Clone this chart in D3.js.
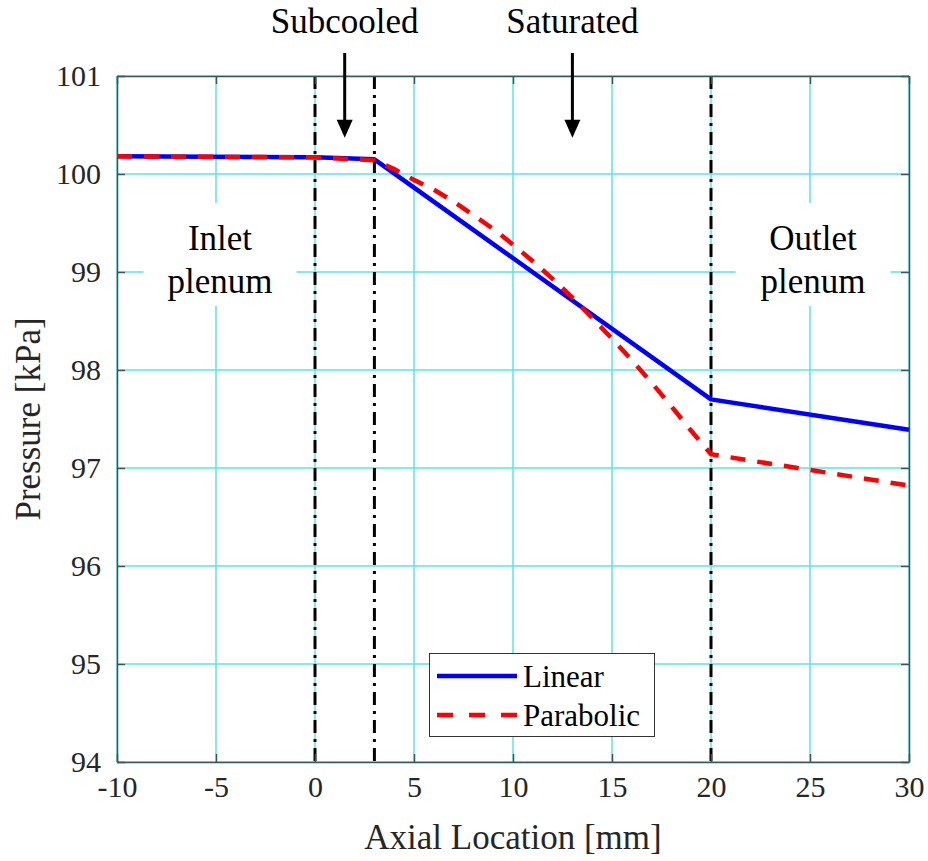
<!DOCTYPE html>
<html>
<head>
<meta charset="utf-8">
<script src="https://cdn.jsdelivr.net/npm/d3@7"></script>
<style>
	body { margin: 0; background: #fff; }
	svg text { font-family: "Liberation Serif", "Times New Roman", serif !important; }
</style>
</head>
<body>
<svg id="chart"></svg>
<script>
(function(){

	//Data
	var linearX = [-10, 0, 3, 20, 30];
	var linearP = [100.18, 100.17, 100.15, 97.70, 97.39];
	var parabX = [-10, 0, 3, 4, 5, 6, 7, 8, 9, 10, 11, 12, 13, 14, 15, 16, 17, 18, 19, 20, 30];
	var parabP = [100.18, 100.17, 100.14, 100.05, 99.94, 99.84, 99.72, 99.58, 99.44, 99.28, 99.11, 98.93, 98.74, 98.53, 98.32, 98.10, 97.87, 97.63, 97.38, 97.14, 96.82];
	var boundaryX = [0, 3, 20];
	var xTicks = [-10, -5, 0, 5, 10, 15, 20, 25, 30];
	var yTicks = [94, 95, 96, 97, 98, 99, 100, 101];
	var regionNames = ["Subcooled", "Saturated"];
	var regionX = [1.5, 13];
	var seriesNames = ["Linear", "Parabolic"];

	//SVG configurations
	var svgWidth = 928, svgHeight = 861;
	var margin = {top: 76, right: 19, bottom: 99, left: 117};
	var gridColor = "#55e6ee";
	var axisColor = "#35585a";
	var lineWidth = 4.5;
	var serif = "'Liberation Serif', 'Times New Roman', serif";

	var svg = d3.select("#chart")
	.attr("width", svgWidth)
	.attr("height", svgHeight);

	var x = d3.scaleLinear().domain([-10, 30]).range([margin.left, svgWidth - margin.right]);
	var y = d3.scaleLinear().domain([94, 101]).range([svgHeight - margin.bottom, margin.top]);

	//grid
	var grid = svg.append("g");
	grid.selectAll(".vgrid").data(xTicks).enter().append("line")
	.attr("x1", function(d){ return x(d); }).attr("x2", function(d){ return x(d); })
	.attr("y1", y(94)).attr("y2", y(101))
	.attr("stroke", gridColor).attr("stroke-width", 1.5);
	grid.selectAll(".hgrid").data(yTicks).enter().append("line")
	.attr("y1", function(d){ return y(d); }).attr("y2", function(d){ return y(d); })
	.attr("x1", x(-10)).attr("x2", x(30))
	.attr("stroke", gridColor).attr("stroke-width", 1.5);

	//region boundaries
	svg.selectAll(".bound").data(boundaryX).enter().append("line")
	.attr("x1", function(d){ return x(d); }).attr("x2", function(d){ return x(d); })
	.attr("y1", y(101)).attr("y2", y(94))
	.attr("stroke", "#000").attr("stroke-width", 3)
	.attr("stroke-dasharray", "13,6,3,6");

	//axes, ticks pointing inward, box on
	var plainFormat = function(d){ return String(d); };
	function styleAxis(g){
		g.attr("font-family", serif);
		g.select(".domain").attr("stroke", axisColor).attr("stroke-width", 1.5);
		g.selectAll(".tick line").attr("stroke", axisColor).attr("stroke-width", 1.5);
		g.selectAll(".tick text").attr("fill", "#262626")
		.style("font-size", "30px").style("font-family", serif);
	}
	svg.append("g").attr("transform", "translate(0," + y(94) + ")")
	.call(d3.axisBottom(x).tickValues(xTicks).tickFormat(plainFormat).tickSize(-8).tickPadding(14).tickSizeOuter(0))
	.call(styleAxis)
	.selectAll(".tick text").attr("dy", "0.71em");
	svg.append("g").attr("transform", "translate(0," + y(101) + ")")
	.call(d3.axisTop(x).tickValues(xTicks).tickSize(-8).tickFormat("").tickSizeOuter(0))
	.call(styleAxis);
	svg.append("g").attr("transform", "translate(" + x(-10) + ",0)")
	.call(d3.axisLeft(y).tickValues(yTicks).tickFormat(plainFormat).tickSize(-8).tickPadding(16).tickSizeOuter(0))
	.call(styleAxis);
	svg.append("g").attr("transform", "translate(" + x(30) + ",0)")
	.call(d3.axisRight(y).tickValues(yTicks).tickSize(-8).tickFormat("").tickSizeOuter(0))
	.call(styleAxis);

	//data lines
	var line = d3.line()
	.x(function(d){ return x(d[0]); })
	.y(function(d){ return y(d[1]); });
	var linearData = d3.zip(linearX, linearP);
	var parabData = d3.zip(parabX, parabP);
	svg.append("path").datum(linearData)
	.attr("d", line)
	.attr("fill", "none").attr("stroke", "#0000ff").attr("stroke-width", lineWidth)
	.attr("stroke-linejoin", "round");
	svg.append("path").datum(parabData)
	.attr("d", line)
	.attr("fill", "none").attr("stroke", "#ff0000").attr("stroke-width", lineWidth)
	.attr("stroke-dasharray", "15,12");

	//axis labels
	svg.append("text")
	.attr("x", (x(-10) + x(30)) / 2).attr("y", 849)
	.attr("text-anchor", "middle").attr("font-size", 35).attr("fill", "#262626")
	.text("Axial Location [mm]");
	svg.append("text")
	.attr("transform", "translate(40," + (y(94) + y(101)) / 2 + ") rotate(-90)")
	.attr("text-anchor", "middle").attr("font-size", 35).attr("fill", "#262626")
	.text("Pressure [kPa]");

	//region labels with white boxes
	function boxedLabel(cx, lines, boxW){
		var g = svg.append("g");
		g.append("rect")
		.attr("x", cx - boxW / 2).attr("y", 203)
		.attr("width", boxW).attr("height", 103)
		.attr("fill", "#fff");
		g.selectAll("text").data(lines).enter().append("text")
		.attr("x", cx).attr("y", function(d, i){ return 250 + i * 43; })
		.attr("text-anchor", "middle").attr("font-size", 35)
		.text(function(d){ return d; });
	}
	boxedLabel(220, ["Inlet", "plenum"], 153);
	boxedLabel(813, ["Outlet", "plenum"], 155);

	//phase annotations with arrows
	var tipY = y(100.37);
	var ann = svg.selectAll(".ann").data(regionNames).enter().append("g");
	ann.append("text")
	.attr("x", function(d, i){ return x(regionX[i]); }).attr("y", 33)
	.attr("text-anchor", "middle").attr("font-size", 35)
	.text(function(d){ return d; });
	ann.append("line")
	.attr("x1", function(d, i){ return x(regionX[i]); })
	.attr("x2", function(d, i){ return x(regionX[i]); })
	.attr("y1", 53).attr("y2", tipY - 12)
	.attr("stroke", "#000").attr("stroke-width", 3);
	ann.append("path")
	.attr("d", function(d, i){
		var cx = x(regionX[i]);
		return "M" + (cx - 8) + "," + (tipY - 18) + "L" + (cx + 8) + "," + (tipY - 18) + "L" + cx + "," + tipY + "Z";
	})
	.attr("fill", "#000");

	//legend
	var legend = svg.append("g");
	legend.append("rect")
	.attr("x", 429.5).attr("y", 653.5).attr("width", 225).attr("height", 83)
	.attr("fill", "#fff").attr("stroke", "#333").attr("stroke-width", 1);
	var legendStyle = [{color: "#0000ff", dash: null}, {color: "#ff0000", dash: "16,16"}];
	var items = legend.selectAll(".item").data(seriesNames).enter().append("g");
	items.append("line")
	.attr("x1", 437).attr("x2", 517)
	.attr("y1", function(d, i){ return 676 + i * 39; }).attr("y2", function(d, i){ return 676 + i * 39; })
	.attr("stroke", function(d, i){ return legendStyle[i].color; })
	.attr("stroke-width", lineWidth)
	.attr("stroke-dasharray", function(d, i){ return legendStyle[i].dash; });
	items.append("text")
	.attr("x", 523).attr("y", function(d, i){ return 687 + i * 39; })
	.attr("font-size", 31)
	.text(function(d){ return d; });

})();
</script>
</body>
</html>
